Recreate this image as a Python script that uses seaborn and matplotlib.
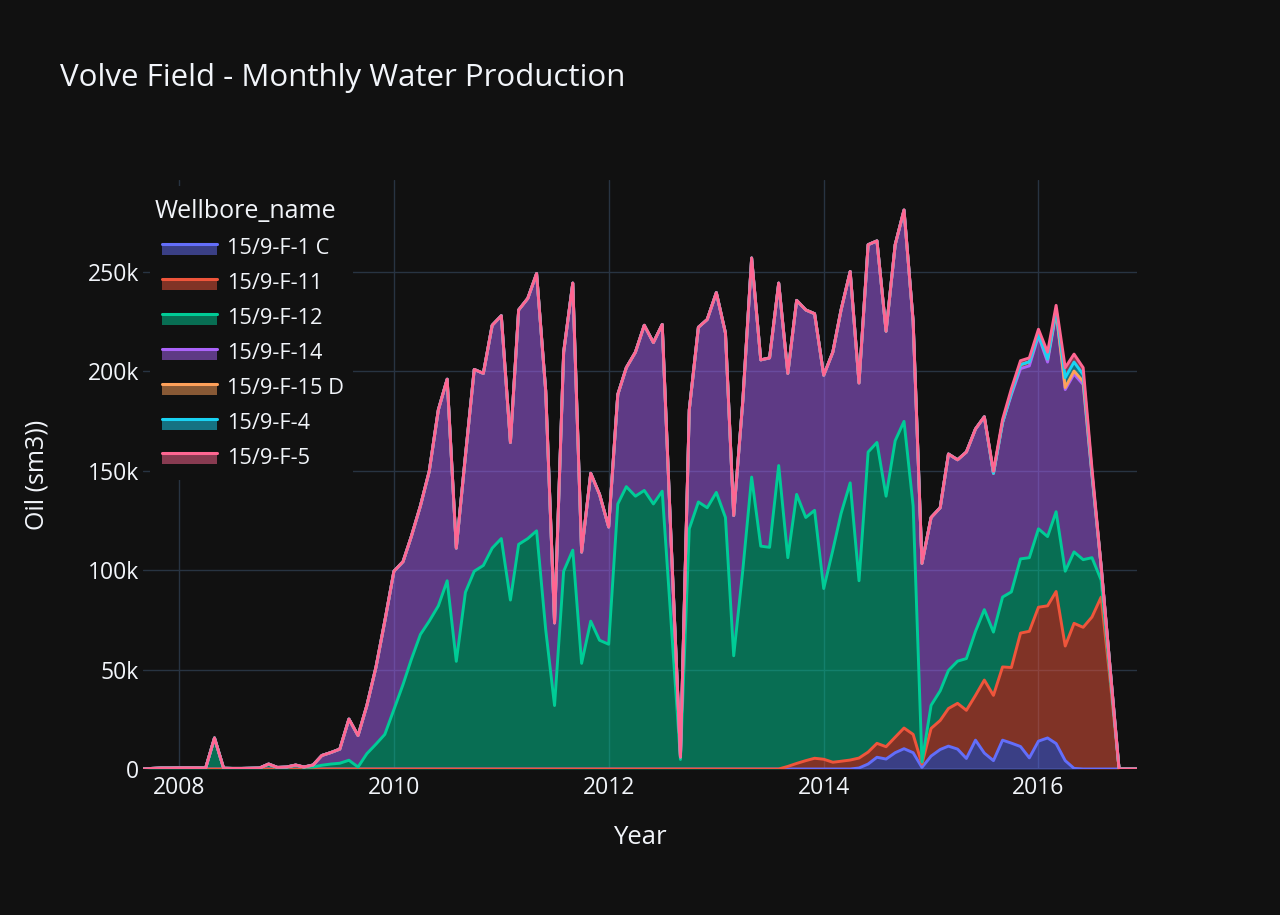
import numpy as np
import pandas as pd
import matplotlib
matplotlib.use("Agg")
import matplotlib.pyplot as plt
from matplotlib.patches import Rectangle
from matplotlib.lines import Line2D
import seaborn as sns

# ---------------- data (monthly water, thousand sm3) ----------------
months = pd.date_range("2007-09-01", "2016-12-01", freq="MS")

wells = ["15/9-F-1 C", "15/9-F-11", "15/9-F-12", "15/9-F-14",
         "15/9-F-15 D", "15/9-F-4", "15/9-F-5"]
colors = ["#636EFA", "#EF553B", "#00CC96", "#AB63FA",
          "#FFA15A", "#19D3F3", "#FF6692"]

f1c = [0, 0, 0, 0,
       0, 0, 0, 0, 0, 0, 0, 0, 0, 0, 0, 0,
       0, 0, 0, 0, 0, 0, 0, 0, 0, 0, 0, 0,
       0, 0, 0, 0, 0, 0, 0, 0, 0, 0, 0, 0,
       0, 0, 0, 0, 0, 0, 0, 0, 0, 0, 0, 0,
       0, 0, 0, 0, 0, 0, 0, 0, 0, 0, 0, 0,
       0, 0, 0, 0, 0, 0, 0, 0, 0, 0, 0, 0,
       0, 0, 0, 0, 0.5, 2.5, 5.9, 5.0, 8.2, 10.2, 8.2, 0.8,
       6.5, 9.8, 11.5, 10.0, 5.3, 14.5, 8.0, 4.2, 14.5, 13.0, 11.3, 5.6,
       14.0, 15.6, 12.8, 4.2, 0.3, 0, 0, 0, 0, 0, 0, 0]

f11 = [0, 0, 0, 0,
       0, 0, 0, 0, 0, 0, 0, 0, 0, 0, 0, 0,
       0, 0, 0, 0, 0, 0, 0, 0, 0, 0, 0, 0,
       0, 0, 0, 0, 0, 0, 0, 0, 0, 0, 0, 0,
       0, 0, 0, 0, 0, 0, 0, 0, 0, 0, 0, 0,
       0, 0, 0, 0, 0, 0, 0, 0, 0, 0, 0, 0,
       0, 0, 0, 0, 0, 0, 0, 0, 1.3, 2.8, 4.2, 5.4,
       4.9, 3.4, 3.9, 4.5, 5.0, 6.0, 7.0, 6.2, 7.8, 10.4, 9.2, 1.7,
       13.9, 14.6, 18.9, 23.0, 24.2, 22.5, 36.7, 32.8, 36.8, 38.0, 57.0, 63.6,
       67.3, 66.4, 76.4, 57.6, 72.9, 71.2, 76.4, 86.4, 44.0, 0, 0, 0]

f12 = [0, 0.3, 0.5, 0.5,
       0.6, 0.6, 0.6, 0.5, 15.6, 0.4, 0.3, 0.3, 0.4, 0.5, 2.3, 0.6,
       0.8, 1.8, 0.9, 1.0, 1.9, 2.5, 2.9, 4.4, 1.0, 7.7, 12.5, 17.4,
       29.9, 42.5, 55.0, 67.6, 74.3, 82.0, 94.6, 54.1, 88.8, 99.4, 102.3, 111.0,
       115.8, 84.9, 112.9, 115.8, 119.7, 70.0, 31.9, 99.4, 110.0, 53.1, 74.3, 64.7,
       62.7, 133.2, 141.9, 137.1, 140.0, 133.2, 139.6, 72.0, 4.8, 120.7, 134.2, 131.3,
       139.0, 126.4, 56.9, 100.0, 146.7, 112.0, 111.4, 152.5, 104.9, 135.2, 122.2, 124.6,
       85.8, 106.6, 124.5, 139.3, 89.1, 150.8, 151.2, 125.9, 149.0, 154.1, 114.8, 1.0,
       11.6, 14.9, 19.1, 21.2, 26.0, 32.2, 35.4, 31.8, 35.1, 38.0, 37.3, 37.0,
       39.4, 34.8, 40.1, 37.6, 35.9, 34.0, 29.8, 8.6, 3.0, 0, 0, 0]

f14 = [0, 0, 0, 0,
       0, 0, 0, 0, 0, 0, 0, 0, 0, 0, 0.2, 0.2,
       0.2, 0.2, 0.1, 1.0, 4.9, 5.8, 7.1, 20.7, 15.8, 24.2, 38.7, 56.9,
       69.5, 61.7, 61.8, 64.6, 75.3, 98.5, 101.3, 56.9, 68.5, 101.4, 96.5, 112.0,
       112.0, 79.2, 117.8, 120.7, 129.3, 120.0, 41.5, 110.1, 134.2, 55.9, 74.3, 73.3,
       58.9, 55.0, 59.8, 72.4, 83.0, 81.1, 83.8, 40.0, 1.2, 59.8, 87.8, 94.6,
       100.4, 92.7, 70.5, 85.0, 110.1, 93.6, 95.2, 91.7, 92.6, 97.5, 104.3, 98.8,
       107.2, 99.5, 102.3, 106.2, 99.4, 104.2, 101.3, 82.9, 98.5, 106.2, 92.8, 99.8,
       94.4, 92.0, 108.8, 101.2, 103.8, 101.7, 96.9, 79.8, 87.8, 99.1, 95.6, 96.4,
       96.8, 87.7, 100.2, 91.3, 89.4, 88.0, 41.3, 7.0, 3.0, 0, 0, 0]

f15d = [0, 0, 0, 0,
        0, 0, 0, 0, 0, 0, 0, 0, 0, 0, 0, 0,
        0, 0, 0, 0, 0, 0, 0, 0, 0, 0, 0, 0,
        0, 0, 0, 0, 0, 0, 0, 0, 0, 0, 0, 0,
        0, 0, 0, 0, 0, 0, 0, 0, 0, 0, 0, 0,
        0, 0, 0, 0, 0, 0, 0, 0, 0, 0, 0, 0,
        0, 0, 0, 0, 0, 0, 0, 0, 0, 0, 0, 0,
        0, 0, 0, 0, 0, 0, 0, 0, 0, 0, 0, 0,
        0, 0, 0, 0, 0, 0, 0, 0, 0, 1.0, 2.0, 2.0,
        1.0, 1.5, 0.5, 1.0, 1.5, 1.5, 0.5, 0, 0, 0, 0, 0]

f4 = [0, 0, 0, 0,
      0, 0, 0, 0, 0, 0, 0, 0, 0, 0, 0, 0,
      0, 0, 0, 0, 0, 0, 0, 0, 0, 0, 0, 0,
      0, 0, 0, 0, 0, 0, 0, 0, 0, 0, 0, 0,
      0, 0, 0, 0, 0, 0, 0, 0, 0, 0, 0, 0,
      0, 0, 0, 0, 0, 0, 0, 0, 0, 0, 0, 0,
      0, 0, 0, 0, 0, 0, 0, 0, 0, 0, 0, 0,
      0, 0, 0, 0, 0, 0, 0, 0, 0, 0, 0, 0,
      0, 0, 0, 0, 0, 0, 0, 0, 0, 0, 0, 0,
      0, 0, 1.0, 5.0, 4.5, 3.5, 1.0, 0, 0, 0, 0, 0]

f5 = [0, 0, 0, 0,
      0, 0, 0, 0, 0, 0, 0, 0, 0, 0, 0, 0,
      0, 0, 0, 0, 0, 0, 0, 0, 0, 0, 0, 0,
      0, 0, 0, 0, 0, 0, 0, 0, 0, 0, 0, 0,
      0, 0, 0, 0, 0, 0, 0, 0, 0, 0, 0, 0,
      0, 0, 0, 0, 0, 0, 0, 0, 0, 0, 0, 0,
      0, 0, 0, 0, 0, 0, 0, 0, 0, 0, 0, 0,
      0, 0, 0, 0, 0, 0, 0, 0, 0, 0, 0, 0,
      0, 0, 0, 0, 0, 0, 0, 1.0, 1.5, 2.0, 2.0, 2.0,
      2.5, 3.5, 2.0, 5.0, 4.0, 3.5, 2.0, 0, 0, 0, 0, 0]

yticks = [0, 50, 100, 150, 200, 250]
ytick_labels = ["0", "50k", "100k", "150k", "200k", "250k"]
xtick_years = ["2008", "2010", "2012", "2014", "2016"]

# ---------------- style ----------------
W, H = 1280, 915
BG = "#111111"
GRID = "#283442"
FG = "#f2f5fa"
FONT = "Open Sans"

sns.set_theme(style="dark")
plt.rcParams["font.family"] = [FONT, "DejaVu Sans"]

fig = plt.figure(figsize=(W / 100, H / 100), dpi=100, facecolor=BG)
L, R, T, B = 143, 1137, 180, 769
ax = fig.add_axes([L / W, 1 - B / H, (R - L) / W, (B - T) / H])
ax.set_facecolor(BG)

series = [f1c, f11, f12, f14, f15d, f4, f5]
stack = np.cumsum(np.array(series, dtype=float), axis=0)

# fills (drawn under all lines, like plotly)
lower = np.zeros(len(months))
for k, col in enumerate(colors):
    ax.fill_between(months, lower, stack[k], color=col, alpha=0.5, lw=0, zorder=2)
    lower = stack[k]

long = pd.concat([
    pd.DataFrame({"Month": months, "level": stack[k], "Wellbore_name": w})
    for k, w in enumerate(wells)
])
sns.lineplot(data=long, x="Month", y="level", hue="Wellbore_name",
             hue_order=wells, palette=colors, lw=2.1, legend=False,
             ax=ax, zorder=3, solid_joinstyle="round", sort=False,
             estimator=None)

# axes
ax.set_xlim(months[0], months[-1])
ax.set_ylim(0, 296)
ax.set_yticks(yticks)
ax.set_yticklabels(ytick_labels)
ax.set_xticks([pd.Timestamp(y + "-01-01") for y in xtick_years])
ax.set_xticklabels(xtick_years)
ax.grid(True, color=GRID, lw=1.0, zorder=0)
ax.axhline(0, color=GRID, lw=2.0, zorder=1)
for s in ax.spines.values():
    s.set_visible(False)
ax.tick_params(axis="both", length=0, colors=FG, labelsize=16.5)
ax.tick_params(axis="y", pad=3)
ax.tick_params(axis="x", pad=5)
ax.set_xlabel("")
ax.set_ylabel("")


def fx(x):
    return x / W


def fy(y):
    return 1 - y / H


fig.text(fx(60), fy(78), "Volve Field - Monthly Water Production",
         color=FG, fontsize=22.5, ha="left", va="center")
fig.text(fx(37), fy(474.5), "Oil (sm3))", color=FG, fontsize=18,
         rotation=90, ha="center", va="center")
fig.text(fx(640), fy(837), "Year", color=FG, fontsize=18.5,
         ha="center", va="center")

# legend (drawn in figure pixel coordinates)
tr = fig.transFigure
ax.add_patch(Rectangle((fx(150), fy(480)), (353 - 150) / W, (480 - 186) / H,
                       transform=tr, facecolor=BG, edgecolor="none",
                       zorder=10, clip_on=False))
ax.text(fx(155), fy(211), "Wellbore_name", transform=tr, color=FG,
        fontsize=18, ha="left", va="center", zorder=11)
for k, (w, col) in enumerate(zip(wells, colors)):
    cy = 249 + 34.9 * k
    ax.add_patch(Rectangle((fx(162), fy(cy + 6)), 55 / W, 12 / H,
                           transform=tr, facecolor=col, alpha=0.5,
                           edgecolor="none", zorder=11, clip_on=False))
    ax.add_line(Line2D([fx(162), fx(217)], [fy(cy - 5), fy(cy - 5)],
                       transform=tr, color=col, lw=2.2, zorder=12,
                       clip_on=False))
    ax.text(fx(227), fy(cy), w, transform=tr, color=FG, fontsize=15.7,
            ha="left", va="center", zorder=12)

fig.savefig("out.png", dpi=100, facecolor=BG)
